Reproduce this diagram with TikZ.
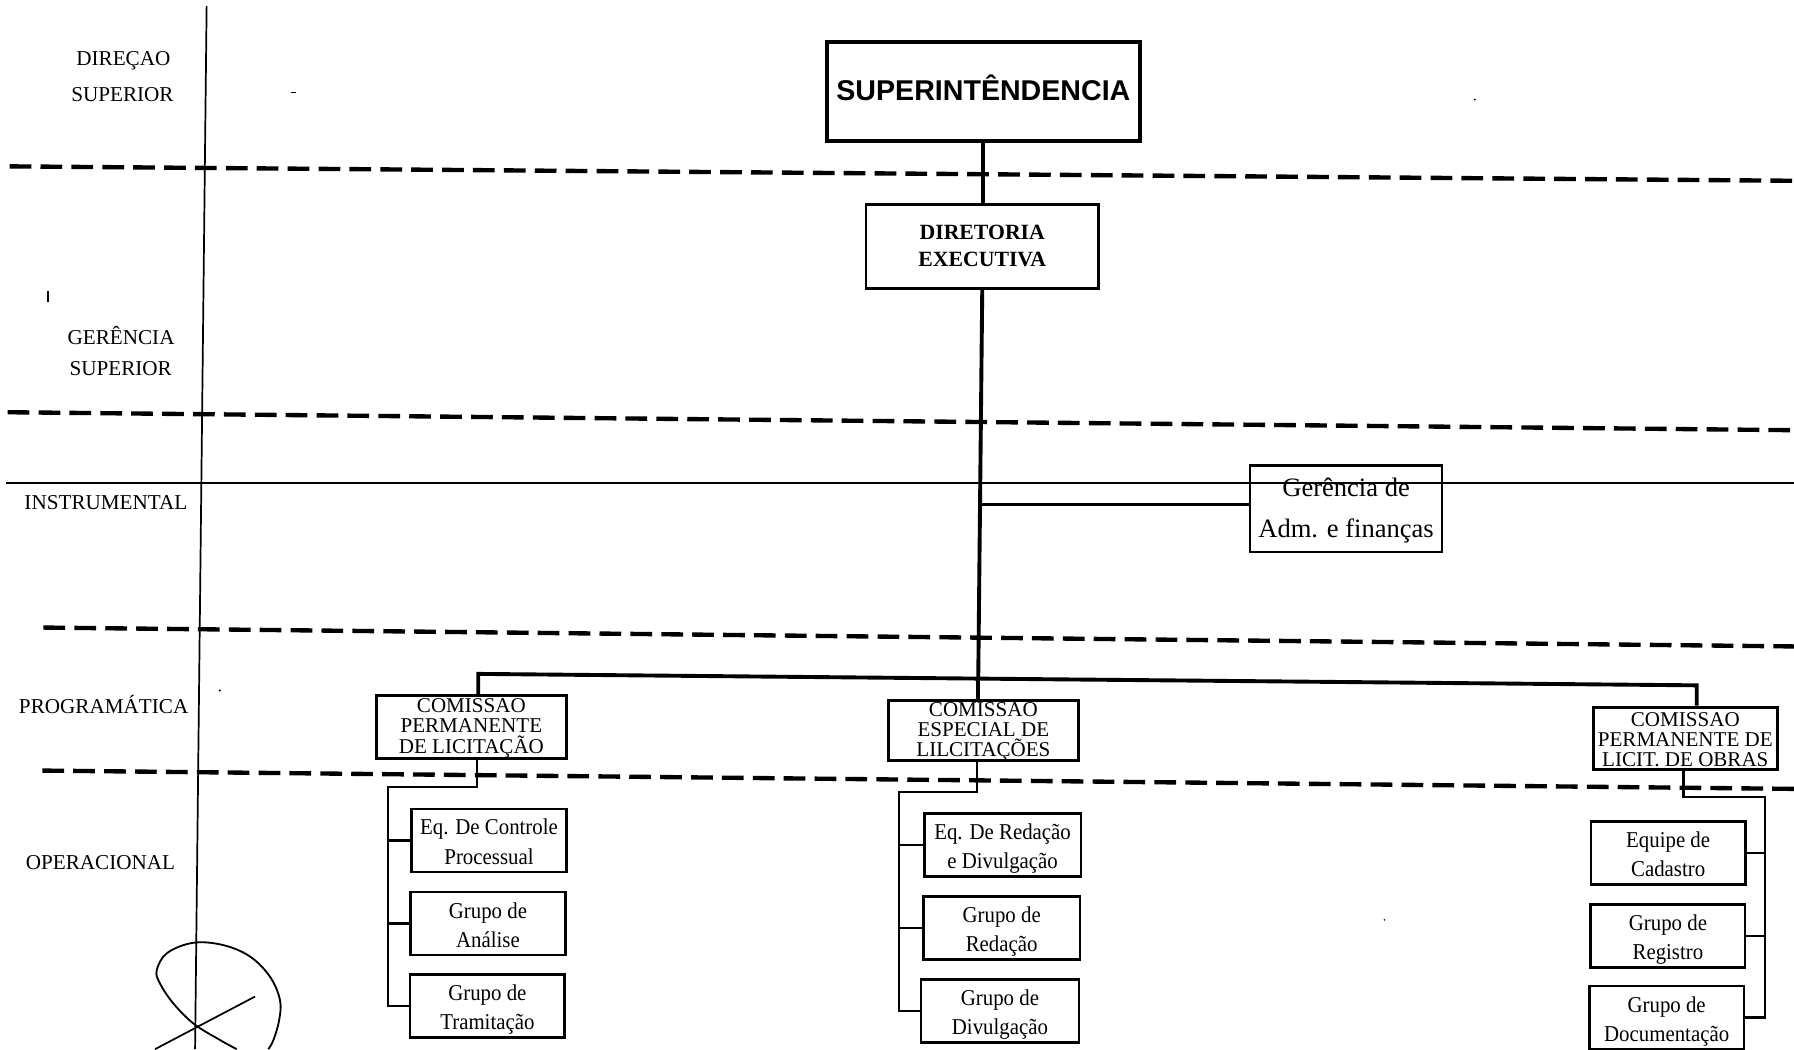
\documentclass[tikz,border=0pt]{standalone}
\usepackage{fontspec}
\setmainfont{Liberation Serif}
\newfontfamily\arialf{Liberation Sans}
\newfontfamily\condf[FakeStretch=0.92]{Liberation Serif}
\lineskiplimit=-30pt\relax
\begin{document}
\begin{tikzpicture}[x=1pt,y=-1pt,
  lbl/.style={anchor=base,inner sep=0pt,font=\fontsize{18.5}{22}\selectfont},
  dashline/.style={line width=3.8pt,dash pattern=on 19pt off 8pt},
  supbox/.style={draw,line width=3.5pt,inner sep=0pt,align=center,minimum width=273pt,minimum height=86pt,text height=51pt,text depth=35pt,font=\arialf\bfseries\fontsize{25}{30}\selectfont},
  dirbox/.style={draw,line width=2.4pt,inner sep=0pt,align=center,minimum width=203pt,minimum height=73.4pt,text height=54pt,text depth=19.4pt,font=\bfseries\fontsize{19}{23}\selectfont},
  gerbox/.style={draw,line width=2.2pt,inner sep=0pt,align=center,minimum width=168pt,minimum height=75.5pt,text height=63pt,text depth=12.5pt,font=\fontsize{23.2}{35.4}\selectfont},
  combox/.style={draw,line width=2.5pt,inner sep=0pt,align=center,minimum width=166pt,font=\fontsize{18.4}{17.6}\selectfont},
  subbox/.style={draw,line width=2.3pt,inner sep=0pt,align=center,minimum width=135pt,minimum height=55pt,text height=48.3pt,text depth=6.7pt,font=\condf\fontsize{19.8}{25.5}\selectfont},
  conn/.style={line width=2pt},
  heavy/.style={line width=3.4pt},
]
\fill[white] (0,0) rectangle (1568,917);
\useasboundingbox (0,0) rectangle (1568,917);

% frame lines
\draw[line width=1.5pt] (180.6,5.4) -- (170.5,917);
\draw[line width=1.3pt] (5,422) -- (1568,422);
\draw[dashline] (8.4,145.4) -- (1568,158);
\draw[dashline] (6.7,360.3) -- (1568,376);
\draw[dashline] (38,548.5) -- (1568,565);
\draw[dashline] (37,673.5) -- (1568,689.5);

% level labels
\node[lbl] (l1) at (107.8,57) {DIREÇAO};
\node[lbl] (l2) at (107,89) {SUPERIOR};
\node[lbl] (l3) at (105.8,301) {GERÊNCIA};
\node[lbl] (l4) at (105.5,328) {SUPERIOR};
\node[lbl] (l5) at (92.6,445.5) {INSTRUMENTAL};
\node[lbl] (l6) at (90.6,624) {PROGRAMÁTICA};
\node[lbl] (l7) at (87.8,760) {OPERACIONAL};

% boxes
\node[supbox] (sup) at (859.5,80) {SUPERINTÊNDENCIA};
\node[dirbox] (dir) at (858.5,215.3) {DIRETORIA\\EXECUTIVA};
\node[gerbox] (ger) at (1176.5,444.5) {Gerência de\\Adm. e finanças};
\node[combox,minimum height=54.5pt,text height=49.9pt,text depth=4.6pt] (c1) at (412,635.5) {COMISSAO\\PERMANENTE\\DE LICITAÇÃO};
\node[combox,minimum height=52pt,text height=49.2pt,text depth=2.8pt] (c2) at (859.5,638.4) {COMISSAO\\ESPECIAL DE\\LILCITAÇÕES};
\node[combox,minimum width=161pt,minimum height=54.4pt,text height=52.3pt,text depth=2.1pt] (c3) at (1473,645.2) {COMISSAO\\PERMANENTE DE\\LICIT. DE OBRAS};

\node[subbox] (L1) at (427.4,734.5) {Eq. De Controle\\Processual};
\node[subbox] (L2) at (426.5,807.1) {Grupo de\\Análise};
\node[subbox] (L3) at (426,879.1) {Grupo de\\Tramitação};
\node[subbox,minimum width=137pt] (M1) at (876.3,738.5) {Eq. De Redação\\e Divulgação};
\node[subbox,minimum width=137pt] (M2) at (875.5,811.2) {Grupo de\\Redação};
\node[subbox,minimum width=138pt] (M3) at (874,883.5) {Grupo de\\Divulgação};
\node[subbox] (R1) at (1458,745.7) {Equipe de\\Cadastro};
\node[subbox] (R2) at (1457.8,817.9) {Grupo de\\Registro};
\node[subbox] (R3) at (1456.7,889.3) {Grupo de\\Documentação};

% main connectors
\coordinate (b1) at (418,589);
\coordinate (b2) at (855,593.1);
\coordinate (b3) at (1483,599);
\coordinate (gj) at (856.6,441);
\draw[heavy] (sup.south) -- (sup.south |- dir.north);
\draw[heavy] (dir.south) -- (b2);
\draw[heavy] (b1 |- c1.north) -- (b1) -- (b3) -- (b3 |- c3.north);
\draw[heavy] (b2) -- (b2 |- c2.north);
\draw[conn] (gj) -- (gj -| ger.west);

% left column
\coordinate (k1) at (417,688);
\coordinate (t1) at (339,688);
\draw[conn] (c1.south -| k1) -- (k1) -- (t1) -- (t1 |- L3.west) -- (L3.west);
\draw[conn] (t1 |- L1.west) -- (L1.west);
\draw[conn] (t1 |- L2.west) -- (L2.west);

% middle column
\coordinate (k2) at (854,692);
\coordinate (t2) at (786,692);
\draw[conn] (c2.south -| k2) -- (k2) -- (t2) -- (t2 |- M3.west) -- (M3.west);
\draw[conn] (t2 |- M1.west) -- (M1.west);
\draw[conn] (t2 |- M2.west) -- (M2.west);

% right column
\coordinate (k3) at (1471.3,696.3);
\coordinate (t3) at (1542.7,696.3);
\draw[conn] (c3.south -| k3) -- (k3) -- (t3) -- (t3 |- R3.east) -- (R3.east);
\draw[conn] (t3 |- R1.east) -- (R1.east);
\draw[conn] (t3 |- R2.east) -- (R2.east);

% scan marks
\draw[line width=1.5pt] (41.8,254.4) -- (41.8,264);
\draw[line width=1pt] (254,80.7) -- (259,80.7);
\fill (1289,87) circle (0.9pt);
\fill (192,603.5) circle (1pt);
\fill (1210,804) circle (0.8pt);

% hand-drawn mark
\draw[line width=1.6pt] plot[smooth,tension=0.6] coordinates {(206.9,917) (192.3,909) (169.6,895) (151.5,877) (139.8,859.5) (137,848) (146,833) (169,824) (195,826) (218.5,836) (236,853.7) (244.7,874) (244,891.5) (239,909) (234.5,917)};
\draw[line width=1.5pt] (135.5,917) -- (222.9,871);
\end{tikzpicture}
\end{document}
